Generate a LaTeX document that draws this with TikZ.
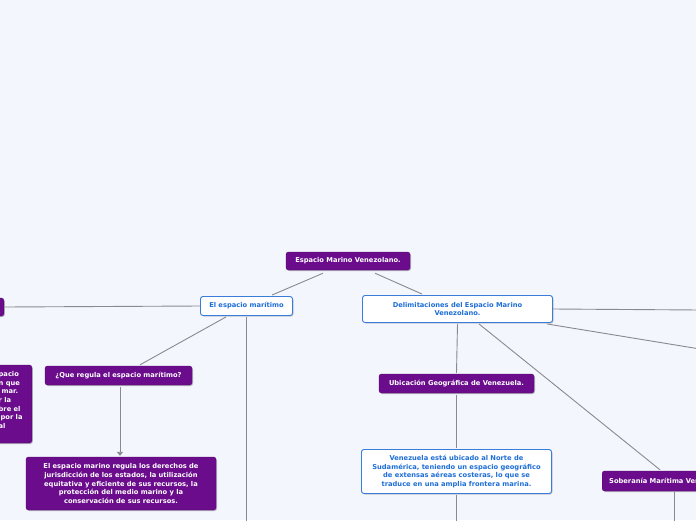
\documentclass[tikz,border=0pt]{standalone}
\usepackage{fontspec}
\setmainfont{DejaVu Sans}
\usetikzlibrary{shadows,arrows.meta}
\definecolor{mmback}{RGB}{243,246,253}
\definecolor{mmpurple}{RGB}{106,12,139}
\definecolor{mmblue}{RGB}{58,124,217}
\definecolor{mmtext}{RGB}{30,110,215}
\definecolor{mmline}{RGB}{138,138,142}
\begin{document}
\begin{tikzpicture}[x=1pt,y=-1pt,
    font=\fontsize{6.7}{8.7}\selectfont\bfseries,
    topic/.style={rectangle, rounded corners=2.5pt, fill=mmpurple, text=white,
        draw=mmpurple!80!black, line width=0.4pt, inner sep=2pt, align=center,
        drop shadow={shadow xshift=1pt, shadow yshift=-1pt, opacity=0.25, fill=black}},
    subtopic/.style={rectangle, rounded corners=2.5pt, fill=white, text=mmtext,
        draw=mmblue, line width=0.9pt, inner sep=2pt, align=center,
        drop shadow={shadow xshift=1pt, shadow yshift=-1pt, opacity=0.2, fill=black}},
    link/.style={draw=mmline, line width=0.9pt},
]
    \fill[mmback] (0,0) rectangle (696,520);
    \clip (0,0) rectangle (696,520);

    \node[topic, minimum width=124pt, minimum height=18pt] (root) at (348,261) {Espacio Marino Venezolano.};
    \node[subtopic, minimum width=92pt, minimum height=19pt] (espacio) at (246.5,306) {El espacio marítimo};
    \node[subtopic, minimum width=190pt, minimum height=27pt] (delim) at (457.5,309) {Delimitaciones del Espacio Marino\\Venezolano.};
    \node[topic, minimum width=60pt, minimum height=18pt, anchor=east] (tipos) at (4,307) {};
    \node[topic, minimum width=100pt, minimum height=78pt, anchor=east] (concepto) at (32,404) {};
    \node[anchor=west, text=white, align=left, inner sep=0pt] (conceptotxt) at (-1.5,400) {pacio\\n que\\\hspace*{3pt}mar.\\r la\\bre el\\\hspace*{2pt}por la\\al};
    \node[topic, minimum width=147pt, minimum height=19pt] (regula) at (118.5,375.5) {¿Que regula el espacio marítimo?};
    \node[topic, minimum width=190pt, minimum height=53pt] (regulatxt) at (121,483.5) {El espacio marino regula los derechos de\\jurisdicción de los estados, la utilización\\equitativa y eficiente de sus recursos, la\\protección del medio marino y la\\conservación de sus recursos.};
    \node[topic, minimum width=155pt, minimum height=19pt] (ubic) at (456.5,383.5) {Ubicación Geográfica de Venezuela.};
    \node[subtopic, minimum width=190pt, minimum height=44pt] (ubictxt) at (456.5,471.5) {Venezuela está ubicado al Norte de\\Sudamérica, teniendo un espacio geográfico\\de extensas aéreas costeras, lo que se\\traduce en una amplia frontera marina.};
    \node[topic, minimum height=20pt, anchor=west, inner xsep=7pt] (sober) at (602,481) {Soberanía Marítima Venezolana.};

    \coordinate (espacioend) at (246.5,530);
    \coordinate (delimright) at (700,310);
    \coordinate (delimlow) at (700,349);
    \coordinate (ubictxtend) at (456.5,530);
    \coordinate (soberend) at (674,530);

    \draw[link] ([xshift=-25pt,yshift=-3pt]root.south) -- ([xshift=25.5pt,yshift=1pt]espacio.north);
    \draw[link] ([xshift=27pt,yshift=-3pt]root.south) -- ([xshift=-35.5pt,yshift=1pt]delim.north);
    \draw[link] (espacio.west) -- (tipos.east);
    \draw[link] ([xshift=-20.5pt,yshift=-1pt]espacio.south) -- ([xshift=21.5pt,yshift=1pt]regula.north);
    \draw[link] ([yshift=-1pt]espacio.south) -- (espacioend);
    \draw[link, -{Triangle[length=4pt,width=6pt]}] ([xshift=1.5pt,yshift=-2pt]regula.south) -- ([xshift=-1pt,yshift=1pt]regulatxt.north);
    \draw[link] (delim.east) -- (delimright);
    \draw[link] ([xshift=-6pt,yshift=-1pt]delim.south east) -- (delimlow);
    \draw[link] ([yshift=-1pt]delim.south) -- ([yshift=1pt]ubic.north);
    \draw[link] ([xshift=21.5pt,yshift=-1pt]delim.south) -- ([xshift=58pt,yshift=1pt]sober.north west);
    \draw[link] ([yshift=-2pt]ubic.south) -- ([yshift=1pt]ubictxt.north);
    \draw[link] ([yshift=-1pt]ubictxt.south) -- (ubictxtend);
    \draw[link] ([xshift=72pt,yshift=-1pt]sober.south west) -- (soberend);
\end{tikzpicture}
\end{document}
